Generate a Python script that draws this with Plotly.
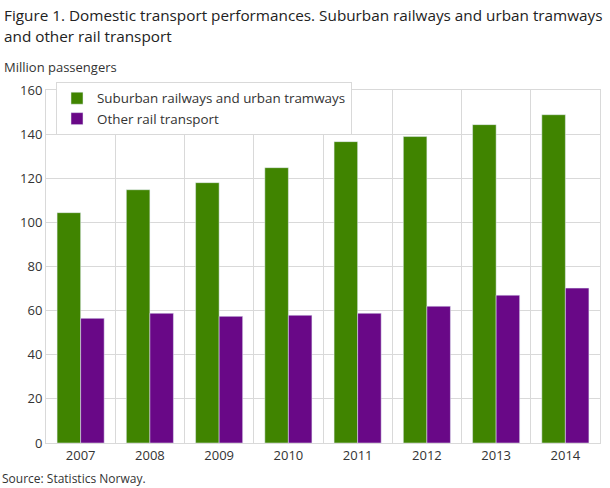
import plotly.graph_objects as go

# values
years = ["2007", "2008", "2009", "2010", "2011", "2012", "2013", "2014"]
suburban = [104.4, 114.8, 118.0, 124.8, 136.6, 138.9, 144.3, 148.8]
other_rail = [56.5, 58.8, 57.4, 57.9, 58.8, 62.0, 67.0, 70.2]
y_ticks = [0, 20, 40, 60, 80, 100, 120, 140, 160]

GREEN = "#408400"
PURPLE = "#690887"
GRID = "#d9d9d9"
FONT = "Open Sans"

# plot area in pixels (from the reference)
L, R, T, B = 46, 10, 90, 45
PW, PH = 610 - L - R, 488 - T - B

fig = go.Figure()
fig.add_trace(go.Bar(x=years, y=suburban, name="Suburban railways and urban tramways",
                     marker_color=GREEN))
fig.add_trace(go.Bar(x=years, y=other_rail, name="Other rail transport",
                     marker_color=PURPLE))

fig.update_layout(
    width=610, height=488,
    margin=dict(l=L, r=R, t=T, b=B),
    paper_bgcolor="white", plot_bgcolor="white",
    barmode="group", bargap=0.32, bargroupgap=0,
    font=dict(family=FONT, size=13, color="#333333"),
    showlegend=True,
    legend=dict(x=10 / PW, y=1 + 8 / PH, xanchor="left", yanchor="top",
                bgcolor="white", bordercolor=GRID, borderwidth=1,
                font=dict(size=13.4, color="#333333"),
                traceorder="normal", itemwidth=30),
)

fig.update_xaxes(type="category", tickson="boundaries", showgrid=True,
                 gridcolor=GRID, gridwidth=1, ticks="", showline=True,
                 linecolor=GRID, mirror=True, tickfont=dict(size=13))
fig.update_yaxes(range=[0, 160], tickvals=y_ticks, showgrid=True,
                 gridcolor=GRID, gridwidth=1, zeroline=False, showline=True,
                 linecolor=GRID, mirror=True, ticks="", tickfont=dict(size=13))


def px_note(text, x, y, size, color="#333333"):
    # place a text by pixel position (left edge, vertical centre)
    fig.add_annotation(text=text, xref="paper", yref="paper",
                       x=(x - L) / PW, y=1 - (y - T) / PH,
                       xanchor="left", yanchor="middle", showarrow=False,
                       font=dict(family=FONT, size=size, color=color))


px_note("Figure 1. Domestic transport performances. Suburban railways and urban tramways",
        2, 15, 15.3, "#222222")
px_note("and other rail transport", 2, 36, 15.3, "#222222")
px_note("Million passengers", 2, 67, 13)
px_note("Source: Statistics Norway.", 0, 478, 12)

fig.write_html("out.html", config={"displayModeBar": False},
               post_script="document.body.style.margin='0';")
